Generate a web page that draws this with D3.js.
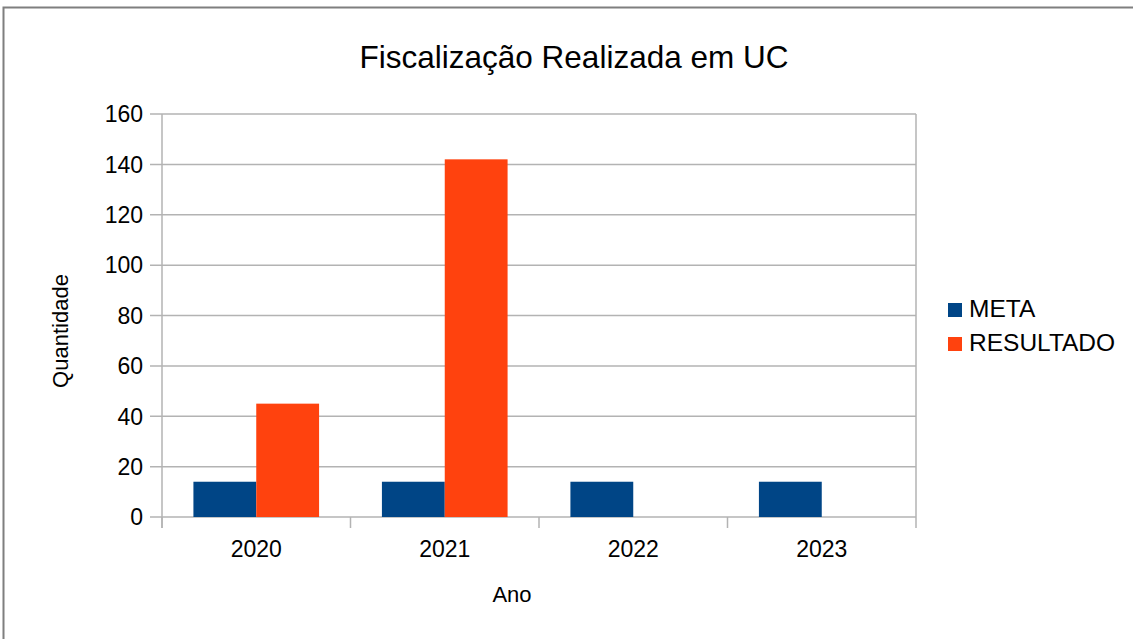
<!DOCTYPE html>
<html>
<head>
<meta charset="utf-8">
<script src="https://cdn.jsdelivr.net/npm/d3@7"></script>
<style>
  body { margin: 0; background: #fff; }
  text { font-family: 'Liberation Sans', Arial, sans-serif; fill: #000; }
</style>
</head>
<body>
<div id="chart"></div>
<script>
// chart data
const years = ['2020', '2021', '2022', '2023'];
const seriesNames = ['META', 'RESULTADO'];
const meta = [14, 14, 14, 14];
const resultado = [45, 142, null, null];
const yTicks = [0, 20, 40, 60, 80, 100, 120, 140, 160];

const width = 1133;
const height = 639;
const colors = ['#004586', '#ff420e'];
const gridColor = '#b3b3b3';

const plot = {left: 162, right: 916, top: 114, bottom: 517};

let svg = d3.select('#chart')
  .append('svg')
    .attr('width', width)
    .attr('height', height);

// outer frame
svg.append('path')
    .attr('d', 'M3.5,' + height + 'V7.5H' + width)
    .attr('fill', 'none')
    .attr('stroke', '#7f7f7f')
    .attr('stroke-width', 2);

let y = d3.scaleLinear()
    .domain([0, 160])
    .range([plot.bottom, plot.top]);

let x0 = d3.scaleBand()
    .domain(years)
    .range([plot.left, plot.right]);

let bw = x0.bandwidth();
let x1 = d3.scaleBand()
    .domain(seriesNames)
    .range([bw / 6, bw * 5 / 6]);

// gridlines
svg.append('g')
  .selectAll('line')
  .data(yTicks)
  .enter()
  .append('line')
    .attr('x1', plot.left - 12)
    .attr('x2', plot.right)
    .attr('y1', function(d) { return y(d); })
    .attr('y2', function(d) { return y(d); })
    .attr('stroke', gridColor)
    .attr('stroke-width', 1.5);

// wall border
svg.append('line')
    .attr('x1', plot.right).attr('x2', plot.right)
    .attr('y1', plot.top).attr('y2', plot.bottom)
    .attr('stroke', gridColor).attr('stroke-width', 1.5);

// category ticks
let catEdges = years.map(function(d) { return x0(d); }).concat([plot.right]);
svg.append('g')
  .selectAll('line')
  .data(catEdges)
  .enter()
  .append('line')
    .attr('x1', function(d) { return d; })
    .attr('x2', function(d) { return d; })
    .attr('y1', plot.bottom)
    .attr('y2', plot.bottom + 11)
    .attr('stroke', gridColor)
    .attr('stroke-width', 1.5);

// y axis line
svg.append('line')
    .attr('x1', plot.left).attr('x2', plot.left)
    .attr('y1', plot.top).attr('y2', plot.bottom + 11)
    .attr('stroke', gridColor).attr('stroke-width', 1.5);

// bars
let seriesData = [meta, resultado];
let groups = svg.append('g')
  .selectAll('g')
  .data(years)
  .enter()
  .append('g')
    .attr('transform', function(d) { return 'translate(' + x0(d) + ',0)'; });

groups.selectAll('rect')
  .data(function(d, i) {
    return seriesNames.map(function(s, j) {
      return {key: s, value: seriesData[j][i], color: colors[j]};
    }).filter(function(o) { return o.value != null; });
  })
  .enter()
  .append('rect')
    .attr('x', function(d) { return x1(d.key); })
    .attr('y', function(d) { return y(d.value); })
    .attr('width', x1.bandwidth())
    .attr('height', function(d) { return y(0) - y(d.value); })
    .attr('fill', function(d) { return d.color; });

// y tick labels
svg.append('g')
  .selectAll('text')
  .data(yTicks)
  .enter()
  .append('text')
    .attr('x', 143)
    .attr('y', function(d) { return y(d); })
    .attr('dy', '0.36em')
    .attr('text-anchor', 'end')
    .attr('font-size', 23)
    .text(function(d) { return d; });

// x tick labels
svg.append('g')
  .selectAll('text')
  .data(years)
  .enter()
  .append('text')
    .attr('x', function(d) { return x0(d) + bw / 2; })
    .attr('y', 557)
    .attr('text-anchor', 'middle')
    .attr('font-size', 23)
    .text(function(d) { return d; });

// title
svg.append('text')
    .attr('x', 574)
    .attr('y', 68)
    .attr('text-anchor', 'middle')
    .attr('font-size', 31.5)
    .text('Fiscalização Realizada em UC');

// axis titles
svg.append('text')
    .attr('x', 512)
    .attr('y', 602)
    .attr('text-anchor', 'middle')
    .attr('font-size', 22)
    .text('Ano');

svg.append('text')
    .attr('transform', 'translate(68,331) rotate(-90)')
    .attr('text-anchor', 'middle')
    .attr('font-size', 22)
    .text('Quantidade');

// legend
let legend = svg.append('g')
  .selectAll('g')
  .data(seriesNames)
  .enter()
  .append('g')
    .attr('transform', function(d, i) { return 'translate(948,' + (303 + i * 34) + ')'; });

legend.append('rect')
    .attr('width', 14)
    .attr('height', 14)
    .attr('fill', function(d, i) { return colors[i]; });

legend.append('text')
    .attr('x', 21)
    .attr('y', 14)
    .attr('font-size', 24.5)
    .text(function(d) { return d; });
</script>
</body>
</html>
